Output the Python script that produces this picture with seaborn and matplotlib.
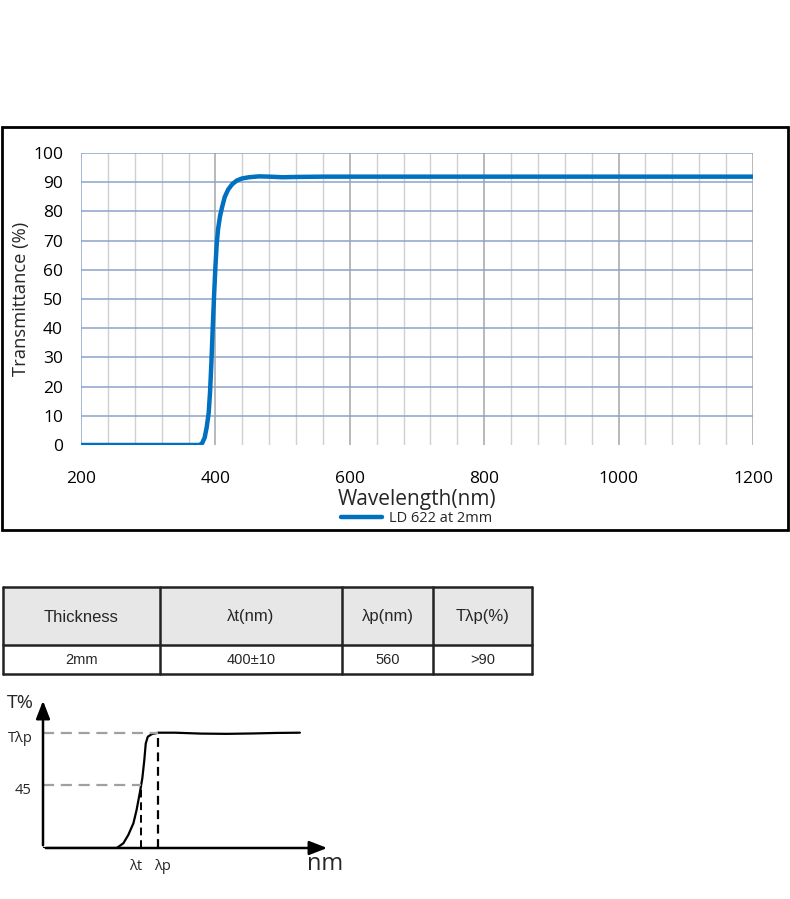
import matplotlib
matplotlib.use("Agg")
import matplotlib.pyplot as plt
import seaborn as sns
import pandas as pd
from matplotlib.patches import Rectangle

# transmittance curve
wavelength = [200, 250, 300, 350, 376, 380, 384, 387, 390, 392, 394, 396, 398, 400,
              402, 404, 407, 410, 414, 419, 425, 432, 440, 450, 465, 480, 500, 520,
              560, 600, 700, 800, 900, 1000, 1100, 1200]
transmittance = [0, 0, 0, 0, 0, 0.5, 2.5, 6, 11, 18, 28, 40, 51, 61,
                 69, 74, 78.5, 81.5, 85, 87.5, 89.3, 90.6, 91.3, 91.7, 92, 91.9, 91.7, 91.8,
                 91.9, 91.9, 91.9, 91.9, 91.9, 91.9, 91.9, 91.9]
series_name = "LD 622 at 2mm"

# spec table
table_header = ["Thickness", "λt(nm)", "λp(nm)", "Tλp(%)"]
table_row = ["2mm", "400±10", "560", ">90"]

# schematic curve (arbitrary units, plateau = 0.9)
sketch_x = [0, 0.257, 0.280, 0.297, 0.315, 0.326, 0.338, 0.346, 0.353, 0.358, 0.365, 0.379,
            0.402, 0.46, 0.55, 0.64, 0.73, 0.81, 0.895]
sketch_y = [0, 0, 0.037, 0.101, 0.193, 0.296, 0.439, 0.543, 0.686, 0.816, 0.868, 0.889,
            0.9, 0.9, 0.893, 0.891, 0.894, 0.898, 0.9]
sketch_t, sketch_p = 0.340, 0.401
level_p, level_t = 0.9, 0.492

sns.set_theme(style="white")
plt.rcParams['font.family'] = ['Open Sans', 'DejaVu Sans']

W, H = 790, 899
fig = plt.figure(figsize=(W / 100, H / 100), dpi=100)

def fx(px):
    return px / W

def fy(py):
    return 1 - py / H

# frame around the chart
fig.patches.append(Rectangle((fx(2), fy(530)), fx(786), 403 / H, transform=fig.transFigure,
                             fill=False, edgecolor="black", linewidth=2))

ax = fig.add_axes([fx(81), fy(445), fx(672), 292 / H])
df = pd.DataFrame({"Wavelength": wavelength, "T": transmittance})
for x in range(240, 1200, 40):
    if x % 200:
        ax.axvline(x, color="#d0d0d0", lw=1, zorder=0)
for x in [400, 600, 800, 1000, 1200]:
    ax.axvline(x, color="#a6a6a6", lw=1.1, zorder=0)
for y in range(10, 101, 10):
    ax.axhline(y, color="#8aa4cc", lw=1.1, zorder=0)
sns.lineplot(data=df, x="Wavelength", y="T", ax=ax, color="#0070c0", lw=3.2,
             label=series_name, legend=False)
ax.set_xlim(200, 1200)
ax.set_ylim(0, 100)
ax.set_xticks(range(200, 1201, 200))
ax.set_yticks(range(0, 101, 10))
for s in ax.spines.values():
    s.set_visible(False)
ax.axvline(200, color="#8aa4cc", lw=1.1, zorder=0)
ax.tick_params(axis="both", length=0, labelsize=12.5, colors="black")
ax.tick_params(axis="x", pad=19)
ax.tick_params(axis="y", pad=13)
ax.set_xlabel("Wavelength(nm)", fontsize=15, labelpad=1)
ax.set_ylabel("Transmittance (%)", fontsize=13.2, labelpad=2)
ax.legend(loc="center", bbox_to_anchor=(0.5, -(519 - 445) / 292), frameon=False, fontsize=10.5,
          handlelength=2.8, borderaxespad=0, borderpad=0, handletextpad=0.5)

# table
tab_ax = fig.add_axes([0, 0, 1, 1])
tab_ax.set_xlim(0, W)
tab_ax.set_ylim(H, 0)
tab_ax.axis("off")
col_edges = [3, 160, 342, 433, 532]
rows_y = [587, 645, 674]
tab_ax.add_patch(Rectangle((3, 587), 529, 58, facecolor="#e7e7e7", edgecolor="none"))
for i in range(4):
    cx = (col_edges[i] + col_edges[i + 1]) / 2
    tab_ax.text(cx, 617, table_header[i], ha="center", va="center", fontsize=12,
                family=["Liberation Sans", "DejaVu Sans"])
    tab_ax.text(cx, 660, table_row[i], ha="center", va="center", fontsize=10.5,
                family=["Liberation Sans", "DejaVu Sans"])
for x in col_edges:
    tab_ax.plot([x, x], [587, 674], color="#222222", lw=1.8)
for y in rows_y:
    tab_ax.plot([3, 532], [y, y], color="#222222", lw=1.8)

# schematic: base at y=848, plateau 115 px above, arrow tip at y=698
sk_h = 150
sk = fig.add_axes([fx(43), fy(848), fx(287), sk_h / H])
sk.set_xlim(0, 1)
sk.set_ylim(0, 0.9 * sk_h / 115.3)
sk.axis("off")
sns.lineplot(x=sketch_x, y=sketch_y, ax=sk, color="black", lw=1.6)
sk.annotate("", xy=(1.0, 0), xytext=(0, 0), xycoords="axes fraction",
            arrowprops=dict(arrowstyle="-|>,head_length=0.9,head_width=0.35", color="black", lw=1.8),
            annotation_clip=False)
sk.annotate("", xy=(0, 1.0), xytext=(0, 0), xycoords="axes fraction",
            arrowprops=dict(arrowstyle="-|>,head_length=0.9,head_width=0.35", color="black", lw=1.8),
            annotation_clip=False)
sk.plot([0, sketch_p], [level_p, level_p], color="#a0a0a0", lw=1.6, ls=(0, (5, 3)))
sk.plot([0, sketch_t], [level_t, level_t], color="#a0a0a0", lw=1.6, ls=(0, (5, 3)))
sk.plot([sketch_t, sketch_t], [0, level_t], color="black", lw=1.4, ls=(0, (4, 2.5)))
sk.plot([sketch_p, sketch_p], [0, level_p], color="black", lw=1.6, ls=(0, (4, 2.5)))
tab_ax.text(20, 703, "T%", ha="center", va="center", fontsize=14)
tab_ax.text(20, 738, "Tλp", ha="center", va="center", fontsize=10.5)
tab_ax.text(23, 790, "45", ha="center", va="center", fontsize=10.5)
tab_ax.text(136, 867, "λt", ha="center", va="center", fontsize=10.5)
tab_ax.text(163, 867, "λp", ha="center", va="center", fontsize=10.5)
tab_ax.text(325, 864, "nm", ha="center", va="center", fontsize=17)

fig.savefig("out.png", dpi=100)
